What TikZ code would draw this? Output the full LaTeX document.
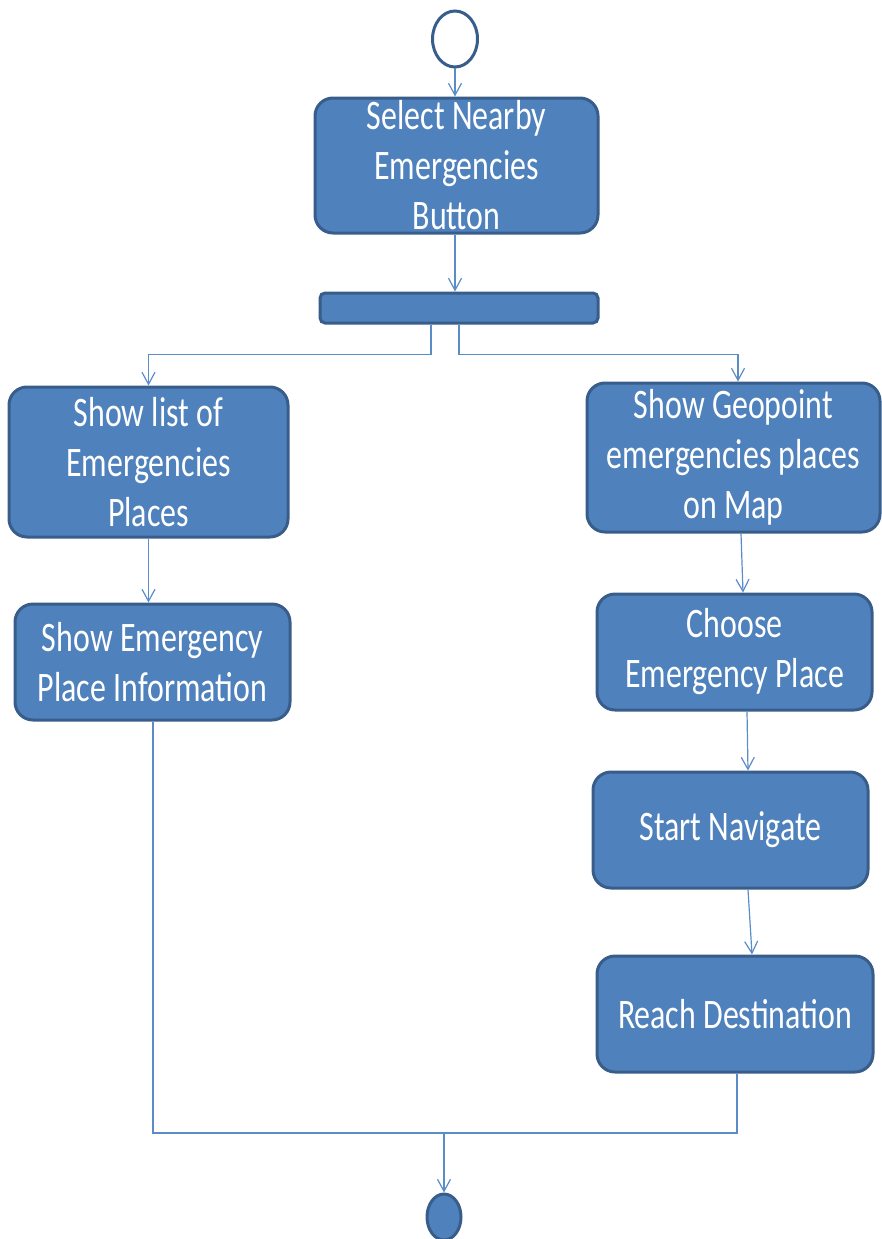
\documentclass[tikz,border=0pt]{standalone}
\usepackage{fontspec}
\newfontfamily\boxfont[FakeStretch=0.76]{Carlito}
\usetikzlibrary{arrows.meta,shapes.geometric}
\definecolor{actfill}{HTML}{4F81BD}
\definecolor{actedge}{HTML}{385D8A}
\definecolor{flowcol}{HTML}{5A8CC8}
\begin{document}
\begin{tikzpicture}[x=1pt,y=-1pt,
  activity/.style={rectangle, rounded corners=18pt, fill=actfill, draw=actedge,
    line width=3pt, inner sep=0pt, align=center, text=white,
    font=\boxfont\fontsize{42pt}{50pt}\selectfont},
  forkbar/.style={rectangle, rounded corners=5pt, fill=actfill, draw=actedge,
    line width=3pt, inner sep=0pt},
  flowline/.style={draw=flowcol, line width=1.2pt},
  flow/.style={flowline, -{Straight Barb[length=12pt,width=13pt,line width=1.2pt]}}]
\useasboundingbox (0,0) rectangle (881,1239);

% initial and final states
\node[ellipse, draw=actedge, line width=3pt, fill=white,
      minimum width=45pt, minimum height=56pt, inner sep=0pt] (start) at (455,39) {};
\node[ellipse, draw=actedge, line width=3pt, fill=actfill,
      minimum width=34pt, minimum height=46pt, inner sep=0pt] (stop) at (444,1217) {};

% activities
\node[activity, minimum width=283pt, minimum height=135pt] (select) at (456.5,165.5)
  {Select Nearby\\Emergencies\\Button};
\node[forkbar, minimum width=278pt, minimum height=30pt] (fork) at (459,308) {};
\node[activity, minimum width=279pt, minimum height=150pt] (list) at (148.5,462)
  {Show list of\\Emergencies\\Places};
\node[activity, minimum width=293pt, minimum height=149pt] (geo) at (733.5,457.5)
  {Show Geopoint\\emergencies places\\on Map};
\node[activity, minimum width=275pt, minimum height=116pt] (info) at (152.5,662)
  {Show Emergency\\Place Information};
\node[activity, minimum width=275pt, minimum height=116pt] (choose) at (734.5,652)
  {Choose\\Emergency Place};
\node[activity, minimum width=275pt, minimum height=116pt] (nav) at (730.5,830)
  {Start Navigate};
\node[activity, minimum width=276pt, minimum height=116pt] (reach) at (735,1014)
  {Reach Destination};

% control flow
\draw[flow] (start.south) -- (start.south |- select.north);
\draw[flow] ([xshift=-1.5pt]select.south) -- ([xshift=-1.5pt]select.south |- fork.north);
\draw[flow] ([xshift=-28pt]fork.south) -- ++(0,30) -| (list.north);
\draw[flow] (fork.south) -- ++(0,30) -| ([xshift=4.5pt]geo.north);
\draw[flow] (list.south) -- (list.south |- info.north);
\draw[flow] ([xshift=7.5pt]geo.south) -- ([xshift=8.5pt]choose.north);
\draw[flow] ([xshift=12.5pt]choose.south) -- ([xshift=17.5pt]nav.north);
\draw[flow] ([xshift=17.5pt]nav.south) -- ([xshift=17pt]reach.north);
\coordinate (join) at (444,1133);
\draw[flowline] ([xshift=0.5pt]info.south) |- (join);
\draw[flowline] ([xshift=2pt]reach.south) |- (join);
\draw[flow] (join) -- (stop.north);
\end{tikzpicture}
\end{document}
